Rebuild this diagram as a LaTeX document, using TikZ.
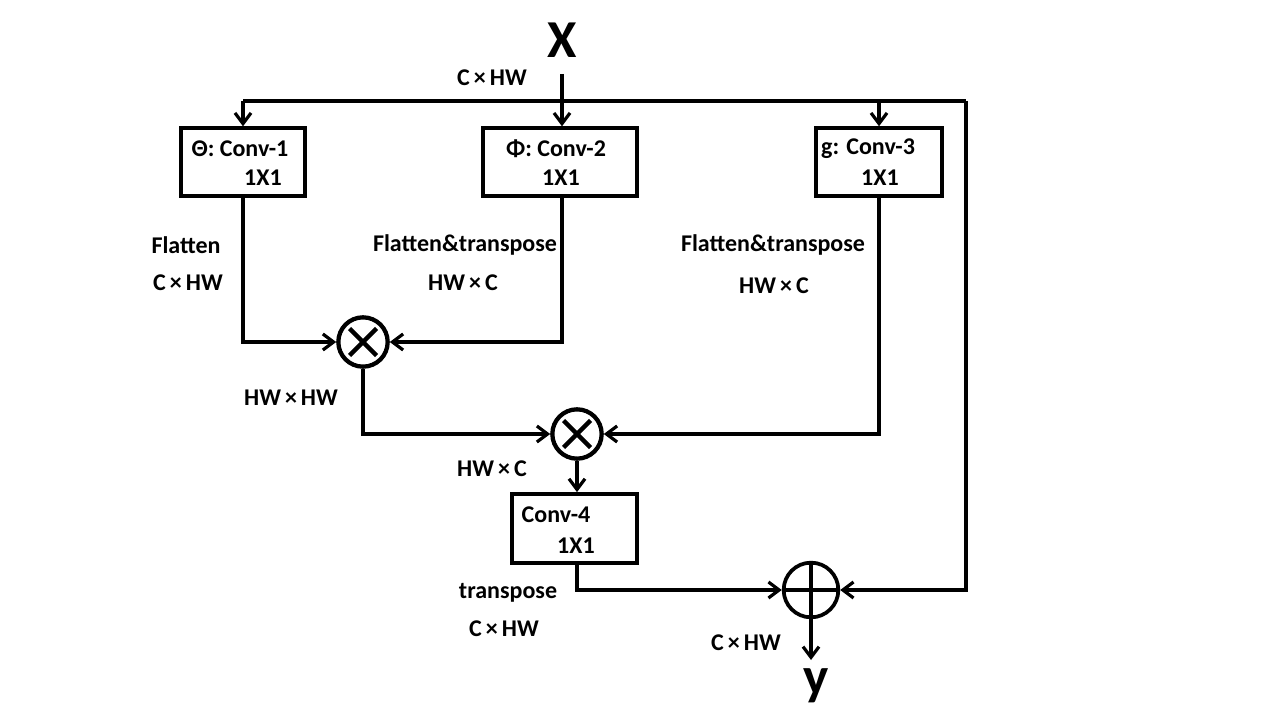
\documentclass[tikz,border=0pt]{standalone}
\usepackage{fontspec}
\setmainfont{Carlito}
\usetikzlibrary{arrows.meta}
\begin{document}
\begin{tikzpicture}[x=0.75pt,y=-0.75pt,
  every node/.style={font=\fontsize{18}{21}\selectfont\bfseries, inner sep=0pt},
  blk/.style={draw, line width=2.6pt, rectangle},
  ln/.style={line width=2.6pt},
  arr/.style={ln, -{Straight Barb[length=8pt,width=12pt,line width=2.4pt]}},
  big/.style={font=\fontsize{40}{42}\selectfont\bfseries}]
\useasboundingbox (0,0) rectangle (1280,720);
% boxes
\node[blk, minimum width=93pt, minimum height=51pt] (b1) at (243,162) {};
\node[blk, minimum width=115.5pt, minimum height=51pt] (b2) at (560,162) {};
\node[blk, minimum width=94.5pt, minimum height=51pt] (b3) at (879,162) {};
\node[blk, minimum width=94pt, minimum height=52pt] (b4) at (574.5,528.5) {};
% box texts
\node (t1a) at (240,149) {Θ: Conv-1};
\node (t1b) at (263,178) {1X1};
\node (t2a) at (556,149) {Φ: Conv-2};
\node (t2b) at (561,178) {1X1};
\node (t3a) at (868,149) {g: Conv-3};
\node (t3b) at (880,178) {1X1};
\node (t4a) at (556,515) {Conv-4};
\node (t4b) at (576,546) {1X1};
% operators
\node[draw, circle, line width=3.2pt, minimum size=37pt] (m1) at (363,342) {};
\draw[line width=3.2pt] ([shift={(-13.5,-13.5)}]m1.center) -- ([shift={(13.5,13.5)}]m1.center)
  ([shift={(-13.5,13.5)}]m1.center) -- ([shift={(13.5,-13.5)}]m1.center);
\node[draw, circle, line width=3.2pt, minimum size=37pt] (m2) at (577,434) {};
\draw[line width=3.2pt] ([shift={(-13.5,-13.5)}]m2.center) -- ([shift={(13.5,13.5)}]m2.center)
  ([shift={(-13.5,13.5)}]m2.center) -- ([shift={(13.5,-13.5)}]m2.center);
\node[draw, circle, line width=2.8pt, minimum size=41pt] (p) at (811,590) {};
\draw[line width=2.8pt] (p.north) -- (p.south) (p.west) -- (p.east);
% input / output
\node[big] (x) at (562,40) {X};
\node[big] (y) at (816,686) {y};
\coordinate (xs) at (562,74);
\coordinate (ya) at (811,660);
\coordinate (lt) at (243,101);
\coordinate (rt) at (966,101);
% connectors
\draw[arr] (xs) -- (xs |- b2.north);
\draw[arr] (lt) -- (b1.north);
\draw[ln] (lt) -- (rt);
\draw[arr] (b3.north |- rt) -- (b3.north);
\draw[arr] (rt) |- (p.east);
\draw[arr] (b1.south) |- (m1.west);
\draw[arr] (xs |- b2.south) |- (m1.east);
\draw[arr] (m1.south) |- (m2.west);
\draw[arr] (b3.south) |- (m2.east);
\draw[arr] (m2.south) -- (m2.south |- b4.north);
\draw[arr] (m2.south |- b4.south) |- (p.west);
\draw[arr] (p.south) -- (ya);
% labels
\node (l0) at (492,78) {C\,×\,HW};
\node (l1) at (186,245) {Flatten};
\node (l2) at (188,283) {C\,×\,HW};
\node (l3) at (465,245) {Flatten\&transpose};
\node (l4) at (463,283) {HW\,×\,C};
\node (l5) at (773,245) {Flatten\&transpose};
\node (l6) at (774,286) {HW\,×\,C};
\node (l7) at (291,398) {HW\,×\,HW};
\node (l8) at (492,469) {HW\,×\,C};
\node (l9) at (508,593) {transpose};
\node (l10) at (504,629) {C\,×\,HW};
\node (l11) at (746,643) {C\,×\,HW};
\end{tikzpicture}
\end{document}
